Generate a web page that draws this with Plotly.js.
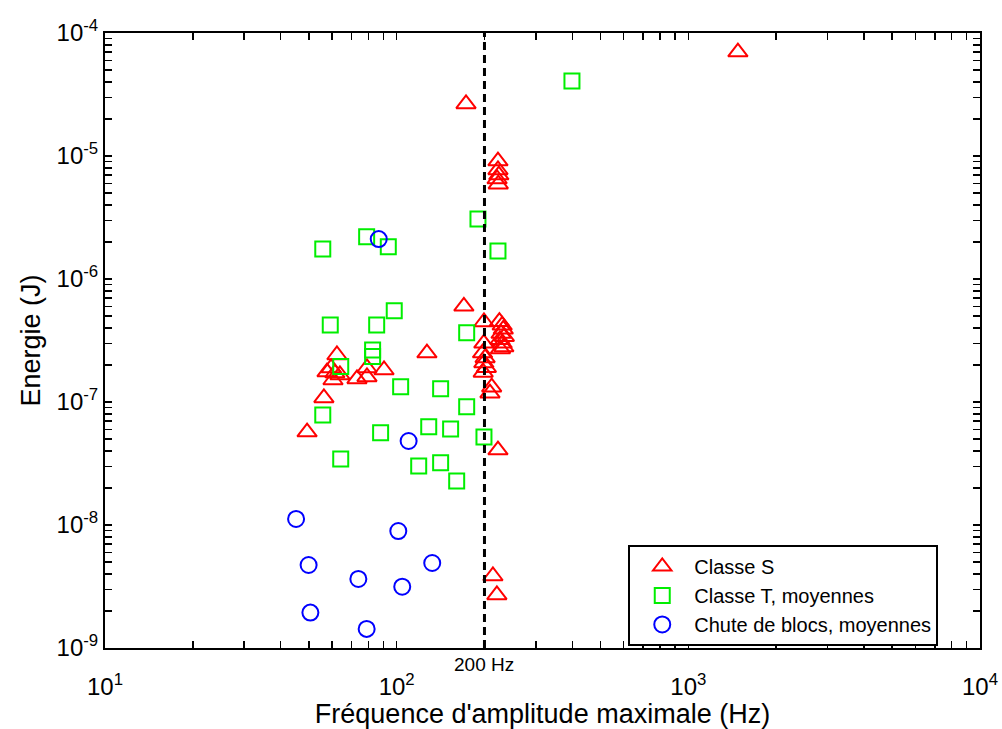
<!DOCTYPE html>
<html>
<head>
<meta charset="utf-8">
<script src="https://cdn.plot.ly/plotly-3.0.1.min.js"></script>
<style>body{margin:0;padding:0;background:#fff;} #chart{width:1002px;height:729px;}</style>
</head>
<body>
<div id="chart"></div>
<script>
// Classe S (red triangles)
const classeS_freq = [1479, 172.9, 222.5, 222.5, 224, 221, 223, 170, 199.2,
  225, 230, 232, 228, 234, 226, 230, 233, 227,
  199, 197, 201, 199, 203, 198, 211.7, 208.9, 222.5, 213.8, 220.6,
  62.4, 57.7, 59.6, 61.4, 63.9, 60.5, 56.3, 49.3, 127, 79.1, 73.1, 79.1, 90.5];
const classeS_energy = [7.0e-5, 2.65e-5, 9.1e-6, 7.7e-6, 7.0e-6, 6.5e-6, 5.9e-6, 6.0e-7, 4.47e-7,
  4.5e-7, 4.2e-7, 3.9e-7, 3.6e-7, 3.4e-7, 3.2e-7, 3.0e-7, 2.8e-7, 2.7e-7,
  3.0e-7, 2.5e-7, 2.28e-7, 2.08e-7, 1.9e-7, 1.74e-7, 1.32e-7, 1.18e-7, 4.07e-8, 3.85e-9, 2.7e-9,
  2.41e-7, 1.75e-7, 1.89e-7, 1.72e-7, 1.66e-7, 1.51e-7, 1.08e-7, 5.7e-8, 2.5e-7, 1.89e-7, 1.54e-7, 1.6e-7, 1.82e-7];

// Classe T, moyennes (green squares)
const classeT_freq = [399, 190, 222.5, 55.8, 78.9, 93.6, 98.1, 59.2, 85.4, 82.7, 82.7, 64.3,
  173.8, 103.2, 141.5, 173.8, 55.8, 88.1, 128.8, 153.1, 199.2, 64.3, 119, 141.5, 160.6];
const classeT_energy = [4.07e-5, 3.08e-6, 1.69e-6, 1.75e-6, 2.21e-6, 1.83e-6, 5.52e-7, 4.23e-7, 4.23e-7, 2.65e-7, 2.34e-7, 1.94e-7,
  3.66e-7, 1.33e-7, 1.28e-7, 9.16e-8, 7.83e-8, 5.62e-8, 6.3e-8, 6.03e-8, 5.19e-8, 3.44e-8, 3.02e-8, 3.21e-8, 2.28e-8];

// Chute de blocs, moyennes (blue circles)
const blocs_freq = [86.8, 109.9, 45.2, 101.3, 49.9, 132.4, 73.9, 104.5, 50.6, 78.9];
const blocs_energy = [2.11e-6, 4.82e-8, 1.12e-8, 8.93e-9, 4.73e-9, 4.91e-9, 3.64e-9, 3.15e-9, 1.94e-9, 1.43e-9];

// 200 Hz reference line
const ref_freq = [200, 200];
const ref_energy = [1e-9, 1e-4];

const seriesNames = ['Classe S', 'Classe T, moyennes', 'Chute de blocs, moyennes'];

// major tick labels
const xTickVals = [10, 100, 1000, 10000];
const xTickText = ['10<sup>1</sup>', '10<sup>2</sup>', '10<sup>3</sup>', '10<sup>4</sup>'];
const yTickVals = [1e-9, 1e-8, 1e-7, 1e-6, 1e-5, 1e-4];
const yTickText = ['10<sup>-9</sup>', '10<sup>-8</sup>', '10<sup>-7</sup>', '10<sup>-6</sup>', '10<sup>-5</sup>', '10<sup>-4</sup>'];

// all tick marks: labelled decades plus unlabelled 2..9 multiples
function allTicks(majors, labels) {
  const vals = [], text = [];
  for (let i = 0; i < majors.length; i++) {
    vals.push(majors[i]); text.push(labels[i]);
    if (i < majors.length - 1) {
      for (let k = 2; k <= 9; k++) { vals.push(majors[i] * k); text.push(''); }
    }
  }
  return {vals, text};
}
const xTicks = allTicks(xTickVals, xTickText);
const yTicks = allTicks(yTickVals, yTickText);

const FONT = 'Liberation Sans, Arial, sans-serif';
const X_RANGE = [1, 4];
const Y_RANGE = [-9, -4];

const traces = [
  {x: classeS_freq, y: classeS_energy, mode: 'markers', name: seriesNames[0],
   marker: {symbol: 'triangle-up-open', size: 17, color: '#ff0000', line: {width: 2, color: '#ff0000'}}},
  {x: classeT_freq, y: classeT_energy, mode: 'markers', name: seriesNames[1],
   marker: {symbol: 'square-open', size: 15, color: '#00ee00', line: {width: 2, color: '#00ee00'}}},
  {x: blocs_freq, y: blocs_energy, mode: 'markers', name: seriesNames[2],
   marker: {symbol: 'circle-open', size: 16, color: '#0000ff', line: {width: 2, color: '#0000ff'}}},
  {x: ref_freq, y: ref_energy, mode: 'lines',
   line: {color: '#000', width: 3, dash: '8px,5px'}, showlegend: false, hoverinfo: 'skip'}
];

const axisCommon = {
  type: 'log', showgrid: false, zeroline: false,
  showline: true, linecolor: '#000', linewidth: 2, mirror: 'ticks',
  ticks: 'inside', ticklen: 7, tickwidth: 1.5, tickcolor: '#000',
  tickmode: 'array', automargin: false,
  tickfont: {family: FONT, size: 24, color: '#000'}
};

const layout = {
  width: 1002, height: 729,
  margin: {l: 105, r: 22, t: 33, b: 81},
  paper_bgcolor: '#fff', plot_bgcolor: '#fff',
  showlegend: true,
  legend: {x: 0.598, y: 0.1675, xanchor: 'left', yanchor: 'top',
    bgcolor: '#fff', bordercolor: '#000', borderwidth: 2,
    font: {family: FONT, size: 20, color: '#000'},
    tracegroupgap: 0, itemwidth: 54},
  xaxis: Object.assign({}, axisCommon, {range: X_RANGE, tickvals: xTicks.vals, ticktext: xTicks.text,
    ticklabelstandoff: 16,
    title: {text: "Fréquence d'amplitude maximale (Hz)", standoff: 0,
      font: {family: FONT, size: 27, color: '#000'}}}),
  yaxis: Object.assign({}, axisCommon, {range: Y_RANGE, tickvals: yTicks.vals, ticktext: yTicks.text,
    title: {text: 'Energie (J)', standoff: 8,
      font: {family: FONT, size: 27, color: '#000'}}}),
  annotations: [{x: Math.log10(200), y: 0, xref: 'x', yref: 'paper', yanchor: 'top', yshift: -4,
    text: '200 Hz', showarrow: false,
    font: {family: 'Liberation Sans Narrow, Liberation Sans, Arial, sans-serif', size: 19, color: '#000'}}]
};

Plotly.newPlot('chart', traces, layout, {displayModeBar: false, staticPlot: true});
</script>
</body>
</html>
